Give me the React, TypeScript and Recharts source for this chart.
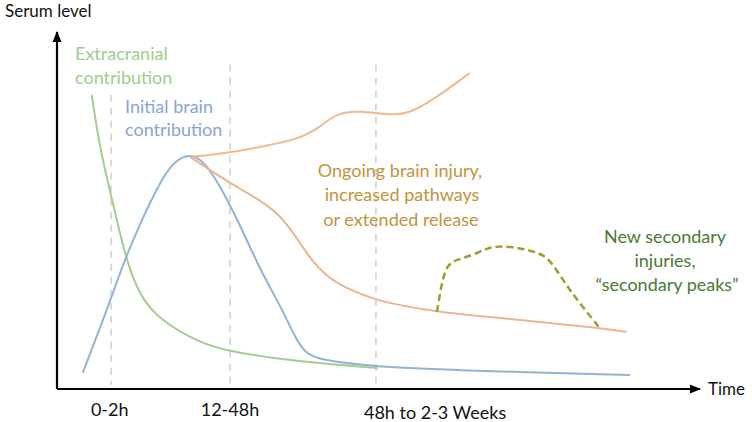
import React from "react";
import {
  LineChart,
  Line,
  XAxis,
  YAxis,
  ReferenceLine,
  ReferenceDot,
} from "recharts";

// Conceptual time axis (0-100) and serum level (0-100)
const extracranialX = [5.4, 6.7, 8.6, 10.6, 12.9, 16.0, 22.2, 26.9, 37.8, 49.9];
const extracranialY = [82.4, 66.9, 52.9, 37.0, 25.8, 19.3, 12.9, 10.4, 7.6, 5.9];

const initialBrainX = [4.0, 8.6, 10.6, 16.0, 18.4, 20.7, 23.0, 25.3, 28.5, 31.6, 34.7, 37.0, 38.6, 40.9, 49.6, 61.1, 89.1];
const initialBrainY = [4.5, 26.1, 37.0, 58.5, 64.0, 66.0, 63.5, 57.1, 45.9, 33.3, 23.5, 14.5, 10.0, 8.1, 6.2, 5.3, 3.9];

const ongoingUpperX = [20.7, 26.4, 31.6, 37.8, 40.9, 43.5, 47.1, 52.3, 55.4, 60.0, 64.2];
const ongoingUpperY = [65.0, 66.1, 67.8, 70.0, 73.4, 77.3, 78.0, 76.5, 77.6, 82.9, 88.5];

const ongoingLowerX = [20.7, 23.8, 26.9, 31.6, 34.7, 37.0, 39.3, 41.7, 44.8, 49.6, 54.1, 59.1, 68.9, 78.2, 84.4, 88.6];
const ongoingLowerY = [65.0, 61.3, 57.7, 52.9, 48.7, 43.1, 36.7, 31.9, 28.3, 24.9, 23.2, 21.6, 19.9, 18.2, 17.1, 16.0];

const secondaryX = [59.1, 59.9, 60.7, 61.9, 64.7, 66.9, 68.9, 72.0, 75.1, 76.7, 78.7, 80.9, 84.4];
const secondaryY = [21.6, 30.5, 34.7, 36.1, 37.5, 39.5, 40.1, 39.5, 38.1, 36.1, 30.5, 24.9, 17.1];

// Phase markers: x position, top of dashed line
const phaseLineX = [8.4, 26.9, 49.6];
const phaseLineTop = [82.4, 90.8, 90.8];

const tickPositions = [8.2, 26.9, 58.8];
const tickLabels = ["0-2h", "12-48h", "48h to 2-3 Weeks"];

const toPoints = (xs: number[], ys: number[]) => xs.map((x, i) => ({ x, y: ys[i] }));

const FONT = "Lato, 'Open Sans', sans-serif";

const Tick = (props: any) => {
  const { x, y, payload, index } = props;
  const i = tickPositions.indexOf(payload.value);
  const label = tickLabels[i >= 0 ? i : index];
  return (
    <text
      x={x}
      y={y + (i === 2 ? 22 : 19)}
      textAnchor="middle"
      fontFamily={FONT}
      fontSize={18}
      fill="#111"
    >
      {label}
    </text>
  );
};

const UpArrow = (p: any) => (
  <path d={`M${p.cx},${p.cy - 1} l-4.5,11 l9,0 z`} fill="#000" />
);
const RightArrow = (p: any) => (
  <path d={`M${p.cx + 1},${p.cy} l-11,-4.5 l0,9 z`} fill="#000" />
);

export default function App() {
  return (
    <div style={{ position: "absolute", left: 0, top: 0, width: 752, height: 422, background: "#fff" }}>
      <LineChart
        width={752}
        height={422}
        margin={{ top: 32, right: 52, bottom: 3, left: 57 }}
      >
        <XAxis
          type="number"
          dataKey="x"
          domain={[0, 100]}
          ticks={tickPositions}
          tick={<Tick />}
          tickLine={false}
          axisLine={{ stroke: "#000", strokeWidth: 2.2 }}
          height={30}
          allowDataOverflow
        />
        <YAxis type="number" domain={[0, 100]} hide />
        {phaseLineX.map((x, i) => (
          <ReferenceLine
            key={"p" + i}
            segment={[
              { x, y: phaseLineTop[i] },
              { x, y: 1.1 },
            ]}
            stroke="#cfcfcf"
            strokeWidth={1.5}
            strokeDasharray="7 6"
            ifOverflow="visible"
          />
        ))}
        <ReferenceLine x={0} stroke="#000" strokeWidth={2.2} ifOverflow="visible" />
        <ReferenceDot x={0} y={100} r={0} shape={<UpArrow />} ifOverflow="visible" />
        <ReferenceDot x={100} y={0} r={0} shape={<RightArrow />} ifOverflow="visible" />
        <Line
          data={toPoints(extracranialX, extracranialY)}
          dataKey="y"
          type="basis"
          stroke="#a6cc8e"
          strokeWidth={2}
          dot={false}
          isAnimationActive={false}
        />
        <Line
          data={toPoints(initialBrainX, initialBrainY)}
          dataKey="y"
          type="basis"
          stroke="#92b4d8"
          strokeWidth={2}
          dot={false}
          isAnimationActive={false}
        />
        <Line
          data={toPoints(ongoingUpperX, ongoingUpperY)}
          dataKey="y"
          type="basis"
          stroke="#f1b98e"
          strokeWidth={2}
          dot={false}
          isAnimationActive={false}
        />
        <Line
          data={toPoints(ongoingLowerX, ongoingLowerY)}
          dataKey="y"
          type="basis"
          stroke="#eeb390"
          strokeWidth={2}
          dot={false}
          isAnimationActive={false}
        />
        <Line
          data={toPoints(secondaryX, secondaryY)}
          dataKey="y"
          type="basis"
          stroke="#a39b2c"
          strokeWidth={2.5}
          strokeDasharray="7 4"
          dot={false}
          isAnimationActive={false}
        />
      </LineChart>
      <svg
        width={752}
        height={422}
        style={{ position: "absolute", left: 0, top: 0, pointerEvents: "none" }}
        fontFamily={FONT}
      >
        <text x={5} y={17} fontSize={17} fill="#111">Serum level</text>
        <text x={708} y={395} fontSize={17} fill="#111">Time</text>
        <g fontSize={18} fill="#9fcd8a">
          <text x={75} y={60}>Extracranial</text>
          <text x={75} y={84}>contribution</text>
        </g>
        <g fontSize={18} fill="#86a6d6">
          <text x={125} y={113}>Initial brain</text>
          <text x={125} y={136}>contribution</text>
        </g>
        <g fontSize={18} fill="#c4933a" textAnchor="middle">
          <text x={400} y={177}>Ongoing brain injury,</text>
          <text x={402} y={201}>increased pathways</text>
          <text x={401} y={226}>or extended release</text>
        </g>
        <g fontSize={18} fill="#4a7b30" textAnchor="middle">
          <text x={665} y={243}>New secondary</text>
          <text x={665} y={267}>injuries,</text>
          <text x={667} y={291}>“secondary peaks”</text>
        </g>
      </svg>
    </div>
  );
}
